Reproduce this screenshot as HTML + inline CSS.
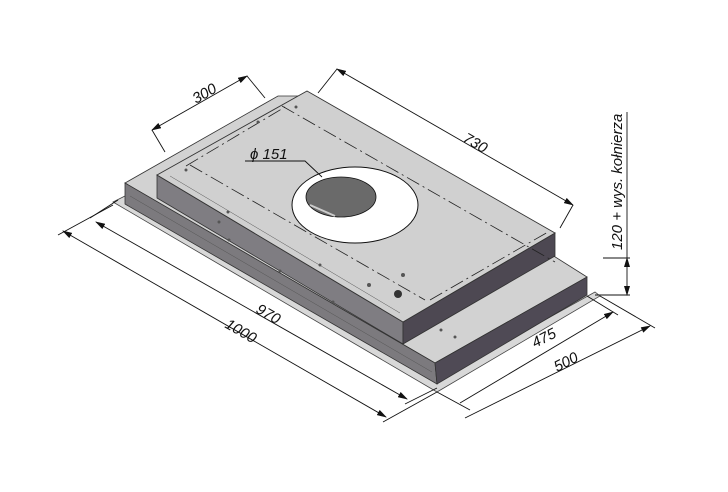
<!DOCTYPE html>
<html><head><meta charset="utf-8"><style>
html,body{margin:0;padding:0;background:#fff;}
svg{display:block;}
text{font-family:"Liberation Sans",sans-serif;font-size:15px;font-style:italic;fill:#111;}
</style></head><body>
<svg width="728" height="492" viewBox="0 0 728 492" xmlns="http://www.w3.org/2000/svg">
<defs>
<marker id="a" markerWidth="10" markerHeight="6" refX="9" refY="3" orient="auto-start-reverse" markerUnits="userSpaceOnUse"><path d="M0,0 L10,3 L0,6 Z" fill="#111"/></marker>
</defs>
<polygon points="113,202 125,196 437,380 595,292 600,296 437,392" fill="#d8d8d8" stroke="#444" stroke-width="0.8"/>
<polygon points="125,183 278,96 300,96 587,277 435,363" fill="#d2d2d2" stroke="#333" stroke-width="0.8"/>
<polygon points="125,183 435,363 437,384 125,204" fill="#7c7a7e" stroke="#333" stroke-width="0.8"/>
<polygon points="435,363 587,277 587,295 437,384" fill="#4f4a55" stroke="#333" stroke-width="0.8"/>
<polygon points="157,175 403,322 403,344 157,198" fill="#7f7d82" stroke="#333" stroke-width="0.8"/>
<polygon points="403,322 555,233 555,256 403,344" fill="#4d4852" stroke="#333" stroke-width="0.8"/>
<polygon points="157,175 307,91 555,233 403,322" fill="#d0d0d0" stroke="#333" stroke-width="0.9"/>
<line x1="170" y1="176" x2="400" y2="313" stroke="#555" stroke-width="0.5"/>
<line x1="130" y1="196" x2="432" y2="372" stroke="#555" stroke-width="0.5"/>
<g stroke="#222" stroke-width="0.8" stroke-dasharray="14,4,2,4" fill="none">
<line x1="282" y1="106" x2="555" y2="262"/>
<line x1="190" y1="165" x2="425" y2="300"/>
<line x1="186" y1="166" x2="285" y2="107"/>
<line x1="430" y1="300" x2="548" y2="232"/>
</g>
<ellipse cx="355" cy="205" rx="63" ry="38" fill="#fff" stroke="#111" stroke-width="1"/>
<ellipse cx="341" cy="197" rx="35" ry="20" fill="#6a6a6a" stroke="#111" stroke-width="0.8"/>
<line x1="310" y1="205" x2="335" y2="216" stroke="#ccc" stroke-width="2"/>
<g fill="#555">
<circle cx="219" cy="222" r="1.5"/><circle cx="229" cy="240" r="1.5"/><circle cx="280" cy="271" r="1.5"/><circle cx="333" cy="302" r="1.5"/>
<circle cx="228" cy="212" r="1.5"/><circle cx="320" cy="265" r="1.5"/><circle cx="369" cy="285" r="2"/><circle cx="403" cy="275" r="2"/>
<circle cx="398" cy="294" r="4" fill="#333"/><circle cx="441" cy="330" r="1.5"/><circle cx="455" cy="337" r="1.5"/>
<circle cx="186" cy="170" r="1.5"/><circle cx="258" cy="122" r="1.5"/><circle cx="296" cy="107" r="1.5"/>
</g>
<g stroke="#111" stroke-width="0.9" fill="none">
<polyline points="165,152 152,130"/>
<polyline points="265,98 247,76"/>
<line x1="152" y1="130" x2="247" y2="76" marker-start="url(#a)" marker-end="url(#a)"/>
<polyline points="318,93 337,69"/>
<polyline points="560,228 573,205"/>
<line x1="337" y1="69" x2="573" y2="205" marker-start="url(#a)" marker-end="url(#a)"/>
<polyline points="245,161 305,161 322,177"/>
<line x1="627" y1="112" x2="627" y2="258"/>
<line x1="603" y1="258" x2="630" y2="258"/>
<line x1="595" y1="295" x2="630" y2="295"/>
<line x1="627" y1="258" x2="627" y2="295" marker-start="url(#a)" marker-end="url(#a)"/>
<line x1="118" y1="200" x2="90" y2="218"/>
<line x1="113" y1="205" x2="58" y2="235"/>
<line x1="437" y1="388" x2="405" y2="404"/>
<line x1="437" y1="392" x2="383" y2="422"/>
<line x1="96" y1="222" x2="407" y2="399" marker-start="url(#a)" marker-end="url(#a)"/>
<line x1="63" y1="231" x2="386" y2="417" marker-start="url(#a)" marker-end="url(#a)"/>
<line x1="587" y1="296" x2="618" y2="315"/>
<line x1="600" y1="296" x2="655" y2="328"/>
<line x1="437" y1="392" x2="470" y2="410"/>
<line x1="460" y1="403" x2="613" y2="312" marker-end="url(#a)"/>
<line x1="465" y1="418" x2="650" y2="326" marker-end="url(#a)"/>
</g>
<text x="196" y="104" transform="rotate(-30 196 104)" font-size="16">300</text>
<text x="462" y="141" transform="rotate(30 462 141)" font-size="16">730</text>
<text x="250" y="159" font-size="16">ϕ 151</text>
<text x="622" y="250" transform="rotate(-90 622 250)" font-size="14">120 + wys. kołnierza</text>
<text x="255" y="312" transform="rotate(30 255 312)" font-size="16">970</text>
<text x="224" y="327" transform="rotate(30 224 327)" font-size="16">1000</text>
<text x="535" y="348" transform="rotate(-27 535 348)" font-size="16">475</text>
<text x="557" y="372" transform="rotate(-27 557 372)" font-size="16">500</text>
</svg>
</body></html>
